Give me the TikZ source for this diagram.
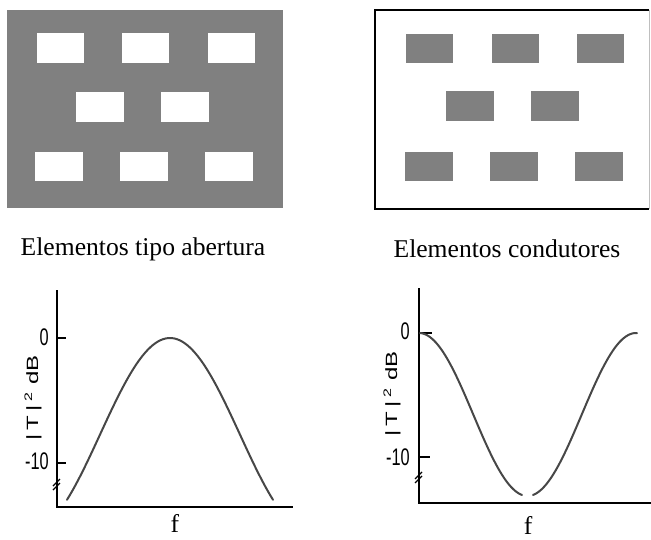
\documentclass[tikz,border=0pt]{standalone}
\usepackage{fontspec}
\setmainfont{Liberation Serif}
\newfontfamily\axisfont{Liberation Sans}
\begin{document}
\begin{tikzpicture}[x=0.5pt, y=-0.5pt,
    hole/.style={fill=white},
    patch/.style={fill=black!50},
    axisline/.style={line width=0.7pt, black},
    brk/.style={line width=0.6pt},
    curve/.style={line width=1pt, black!72, line cap=round},
    caption/.style={font=\fontsize{12.8}{15}\selectfont},
    axlab/.style={font=\axisfont\fontsize{12}{14}\selectfont, xscale=0.68, inner sep=0pt}]
            \useasboundingbox (0,0) rectangle (651,539);

            % aperture screen
            \fill[black!50] (7,10) rectangle (283,208);
            \foreach \x in {37,122,208} \fill[hole] (\x,33) rectangle ++(47,30);
            \foreach \x in {76,161} \fill[hole] (\x,92) rectangle ++(48,30);
            \foreach \x in {35,120,205} \fill[hole] (\x,152) rectangle ++(48,29);

            % conducting patches
            \draw[line width=0.8pt] (649,10) -- (375,10) -- (375,209) -- (649,209);
            \draw[black!25] (649,10) -- (649,209);
            \foreach \x in {406,492,577} \fill[patch] (\x,34) rectangle ++(47,29);
            \foreach \x in {446,531} \fill[patch] (\x,91) rectangle ++(48,30);
            \foreach \x in {405,490,575} \fill[patch] (\x,152) rectangle ++(48,29);

            \node[caption] (capA) at (143,249) {Elementos tipo abertura};
            \node[caption] (capC) at (507,249) {Elementos condutores};

            % left plot
            \coordinate (LO) at (57,507);
            \coordinate (Ltop) at (57,290);
            \coordinate (Lend) at (293,507);
            \draw[axisline] (Ltop) -- (LO) -- (Lend);
            \draw[axisline] (57,338) -- ++(9,0);
            \draw[axisline] (57,463) -- ++(9,0);
            \draw[brk] (53,486) -- ++(7,-7) (53,490) -- ++(7,-7);
            \node[axlab, anchor=east] (Lzero) at (49,337) {0};
            \node[axlab, anchor=east] (Lten) at (49,461) {-10};
            \node[axlab, rotate=90] (Lylab) at (33,398) {|\,T\,|\,\textsuperscript{2}\ dB};
            \node[caption] (Lf) at (175,523) {f};
            \draw[curve] plot[domain=67:273, samples=80, smooth] (\x, {338 + 96.6*(1 - cos(1.2857*(\x-170)))});

            % right plot
            \coordinate (RO) at (419,503);
            \coordinate (Rtop) at (419,288);
            \coordinate (Rend) at (651,503);
            \draw[axisline] (Rtop) -- (RO) -- (Rend);
            \draw[axisline] (419,333) -- ++(13,0);
            \draw[axisline] (419,457) -- ++(11,0);
            \draw[brk] (415,479) -- ++(7,-7) (415,483) -- ++(7,-7);
            \node[axlab, anchor=east] (Rzero) at (410,331) {0};
            \node[axlab, anchor=east] (Rten) at (410,457) {-10};
            \node[axlab, rotate=90] (Rylab) at (392,394) {|\,T\,|\,\textsuperscript{2}\ dB};
            \node[caption] (Rf) at (528,525) {f};
            \draw[curve] plot[domain=420:522, samples=60, smooth] (\x, {333 + 81.5*(1 + cos(1.659*(\x-527.5)))});
            \draw[curve] plot[domain=533:637, samples=60, smooth] (\x, {333 + 81.5*(1 + cos(1.659*(\x-527.5)))});
        \end{tikzpicture}
\end{document}
